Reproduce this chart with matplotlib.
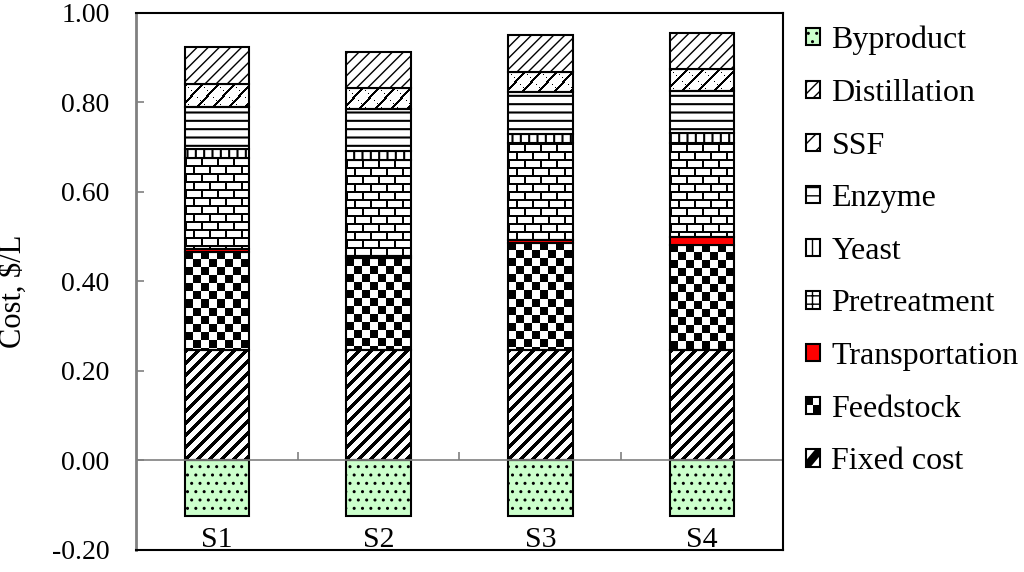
import numpy as np
import matplotlib.pyplot as plt
from matplotlib.patches import Rectangle, Polygon
from matplotlib.legend_handler import HandlerBase

# values, $/L
scenarios = ["S1", "S2", "S3", "S4"]
byproduct = [-0.123, -0.123, -0.123, -0.123]
fixed_cost = [0.247, 0.247, 0.247, 0.247]
feedstock = [0.219, 0.205, 0.240, 0.235]
transportation = [0.006, 0.004, 0.006, 0.017]
pretreatment = [0.205, 0.216, 0.216, 0.210]
yeast = [0.020, 0.020, 0.021, 0.023]
enzyme = [0.094, 0.093, 0.094, 0.094]
ssf = [0.050, 0.047, 0.045, 0.049]
distillation = [0.082, 0.081, 0.082, 0.080]
yticks = [-0.2, 0.0, 0.2, 0.4, 0.6, 0.8, 1.0]

plt.rcParams['font.family'] = ['Liberation Serif', 'DejaVu Serif']


# pixel tiles for the fill patterns (1 = white, 0 = black)
def brick_tile():
    t = np.ones((16, 16))
    t[0:2, :] = 0
    t[8:10, :] = 0
    t[0:8, 0:2] = 0
    t[8:16, 8:10] = 0
    return t


def checker_tile():
    t = np.ones((16, 16))
    t[0:8, 0:8] = 0
    t[8:16, 8:16] = 0
    return t


def stripe_tile(period=12, thick=5):
    i, j = np.indices((period, period))
    return np.where((i + j) % period < thick, 0.0, 1.0)


def ssf_tile():
    i, j = np.indices((16, 16))
    t = np.where((i + j) % 16 < 3, 0.0, 1.0)
    t[((i - j) % 16 == 0) & (i % 3 == 0)] = 0
    return t


def pattern_fill(ax, bars, tile):
    # pixel pattern clipped to each bar
    for bar in bars:
        x0, y0 = bar.get_x(), bar.get_y()
        x1, y1 = x0 + bar.get_width(), y0 + bar.get_height()
        (px0, py0), (px1, py1) = ax.transData.transform([(x0, y0), (x1, y1)])
        w = max(int(round(abs(px1 - px0))), 1)
        h = max(int(round(abs(py1 - py0))), 1)
        img = np.tile(tile, (h // tile.shape[0] + 1, w // tile.shape[1] + 1))[:h, :w]
        im = ax.imshow(img, cmap='gray', vmin=0, vmax=1, extent=(x0, x1, y0, y1),
                       aspect='auto', interpolation='nearest', zorder=1.5)
        im.set_clip_path(bar)


class CheckerHandler(HandlerBase):
    def create_artists(self, legend, orig_handle, xd, yd, w, h, fontsize, trans):
        box = Rectangle((-xd, -yd), w, h, facecolor='white', edgecolor='black', lw=1.5, transform=trans)
        q1 = Rectangle((-xd, -yd + h / 2), w / 2, h / 2, facecolor='black', lw=0, transform=trans)
        q2 = Rectangle((-xd + w / 2, -yd), w / 2, h / 2, facecolor='black', lw=0, transform=trans)
        return [box, q1, q2]


class StripeHandler(HandlerBase):
    def create_artists(self, legend, orig_handle, xd, yd, w, h, fontsize, trans):
        x0, y0 = -xd, -yd
        box = Rectangle((x0, y0), w, h, facecolor='white', edgecolor='black', lw=1.5, transform=trans)
        band = Polygon([(x0, y0), (x0 + 0.35 * w, y0), (x0 + w, y0 + 0.65 * h), (x0 + w, y0 + h),
                        (x0 + 0.65 * w, y0 + h), (x0, y0 + 0.35 * h)],
                       facecolor='black', lw=0, transform=trans)
        return [box, band]


fig = plt.figure(figsize=(10.24, 5.72), dpi=100)
ax = fig.add_axes([0.1328, 0.0385, 0.6318, 0.9388])
ax.set_xlim(-0.5, 3.5)
ax.set_ylim(-0.2, 1.0)

x = np.arange(len(scenarios))
width = 0.4
edge = dict(edgecolor='black', linewidth=1.5, width=width)

# name, values, bar style, hatch linewidth, pixel tile
segments = [
    ("Fixed cost", fixed_cost, dict(facecolor='none'), None, stripe_tile()),
    ("Feedstock", feedstock, dict(facecolor='none'), None, checker_tile()),
    ("Transportation", transportation, dict(facecolor='#FF0000'), None, None),
    ("Pretreatment", pretreatment, dict(facecolor='none'), None, brick_tile()),
    ("Yeast", yeast, dict(facecolor='white', hatch='||'), 1.5, None),
    ("Enzyme", enzyme, dict(facecolor='white', hatch='--'), 1.5, None),
    ("SSF", ssf, dict(facecolor='none'), None, ssf_tile()),
    ("Distillation", distillation, dict(facecolor='white', hatch='///'), 1.0, None),
]

handles = {}
bp = ax.bar(x, byproduct, facecolor='#CCFFCC', hatch='..', zorder=2, label="Byproduct", **edge)
handles["Byproduct"] = bp

bottom = np.zeros(len(scenarios))
for name, vals, style, hlw, tile in segments:
    bars = ax.bar(x, vals, bottom=bottom, zorder=2, label=name, **edge, **style)
    if hlw is not None:
        for b in bars:
            if hasattr(b, 'set_hatch_linewidth'):
                b.set_hatch_linewidth(hlw)
    if tile is not None:
        pattern_fill(ax, bars, tile)
    handles[name] = bars
    bottom = bottom + np.array(vals)

ax.set_xlim(-0.5, 3.5)
ax.set_ylim(-0.2, 1.0)

ax.axhline(0, color='#808080', linewidth=1.2, zorder=2.5)
ax.vlines([0.5, 1.5, 2.5, 3.5], 0, 0.02, color='#808080', linewidth=1.2, zorder=2.5)

ax.set_yticks(yticks)
ax.set_yticklabels([f"{v:.2f}" for v in yticks])
ax.tick_params(axis='y', direction='in', length=6, width=1.2, color='#808080', pad=19, labelsize=20)
ax.set_xticks(x)
ax.set_xticklabels(scenarios)
ax.tick_params(axis='x', length=0, pad=-16.5, labelsize=21.5)

for side in ['top', 'right', 'bottom']:
    ax.spines[side].set_color('black')
    ax.spines[side].set_linewidth(1.5)
ax.spines['left'].set_color('#808080')
ax.spines['left'].set_linewidth(2)

fig.text(0.013, 0.49, "Cost, \\$/L", rotation=90, ha='center', va='center', fontsize=22)

order = ["Byproduct", "Distillation", "SSF", "Enzyme", "Yeast", "Pretreatment",
         "Transportation", "Feedstock", "Fixed cost"]
leg_handles = []
for name in order:
    if name == "Pretreatment":
        leg_handles.append(Rectangle((0, 0), 1, 1, facecolor='white', edgecolor='black', lw=1.5, hatch='++'))
    elif name == "SSF":
        leg_handles.append(Rectangle((0, 0), 1, 1, facecolor='white', edgecolor='black', lw=1.5, hatch='//'))
    else:
        leg_handles.append(handles[name])
fig.legend(leg_handles, order, loc='upper left', bbox_to_anchor=(0.787, 0.955),
           frameon=False, fontsize=23, handlelength=0.45, handleheight=0.45,
           handletextpad=0.35, labelspacing=0.74, borderpad=0, borderaxespad=0,
           handler_map={handles["Feedstock"]: CheckerHandler(),
                        handles["Fixed cost"]: StripeHandler()})

fig.savefig("out.png", dpi=100)
